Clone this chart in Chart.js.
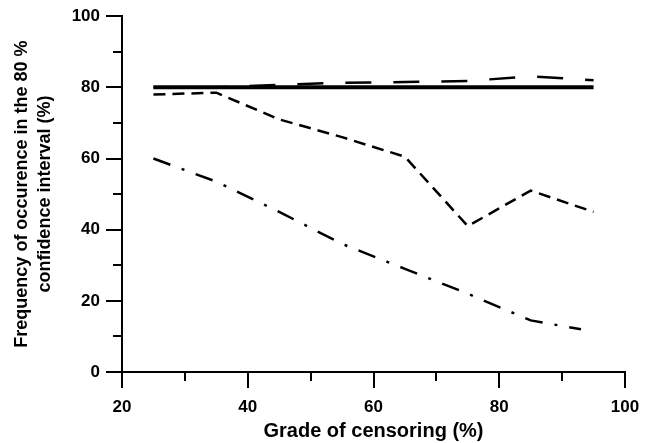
<!DOCTYPE html>
<html>
<head>
<meta charset="utf-8">
<script src="https://cdn.jsdelivr.net/npm/chart.js@4"></script>
<style>
  html, body { margin: 0; padding: 0; background: #fff; }
  #wrap { width: 651px; height: 443px; }
</style>
</head>
<body>
<div id="wrap"><canvas id="chart" width="651" height="443"></canvas></div>
<script>
// --- DATA ---
const censoring = [25, 35, 45, 55, 65, 75, 85, 95]; // grade of censoring (%)
const solidSeries = [80, 80, 80, 80, 80, 80, 80, 80];
const longDashSeries = [80, 80, 80.7, 81.3, 81.5, 81.8, 83.1, 82];
const shortDashSeries = [78, 78.5, 71, 66, 60.5, 41, 51, 45];
const dashDotX = [25, 35, 45, 55, 65, 75, 85, 93];
const dashDotSeries = [60, 53.5, 45, 36, 29, 22, 14.5, 12];

const xMajorTicks = [20, 40, 60, 80, 100];
const xMinorTicks = [30, 50, 70, 90];
const yMajorTicks = [0, 20, 40, 60, 80, 100];
const yMinorTicks = [10, 30, 50, 70, 90];

// --- HELPERS ---
function pairs(xs, ys) {
  return xs.map((x, i) => ({ x: x, y: ys[i] }));
}

function line(data, width, dash) {
  return {
    data: data,
    borderColor: "#000",
    borderWidth: width,
    borderDash: dash,
    borderCapStyle: "butt",
    pointRadius: 0,
    tension: 0,
    fill: false
  };
}

// short outward ticks between the labelled ones
const minorTicks = {
  id: "minorTicks",
  afterDraw(chart) {
    const c = chart.ctx;
    const xs = chart.scales.x, ys = chart.scales.y;
    c.save();
    c.strokeStyle = "#000";
    c.lineWidth = 2;
    c.beginPath();
    xMinorTicks.forEach(v => {
      const px = Math.round(xs.getPixelForValue(v));
      c.moveTo(px, xs.top);
      c.lineTo(px, xs.top + 9);
    });
    yMinorTicks.forEach(v => {
      const py = Math.round(ys.getPixelForValue(v));
      c.moveTo(ys.right, py);
      c.lineTo(ys.right - 9, py);
    });
    c.stroke();
    c.restore();
  }
};

const FONT = "'Liberation Sans', Arial, sans-serif";
const tickFont = { family: FONT, size: 17, weight: "bold" };

new Chart(document.getElementById("chart"), {
  type: "line",
  data: {
    datasets: [
      line(pairs(censoring, solidSeries), 4, []),
      line(pairs(censoring, longDashSeries), 2.5, [26, 22]),
      line(pairs(censoring, shortDashSeries), 2.5, [12, 7]),
      line(pairs(dashDotX, dashDotSeries), 2.5, [18, 12, 3, 12])
    ]
  },
  options: {
    responsive: false,
    animation: false,
    layout: { padding: { top: 14, right: 26, left: 10, bottom: 0 } },
    plugins: { legend: { display: false }, tooltip: { enabled: false } },
    scales: {
      x: {
        type: "linear",
        min: 20,
        max: 100,
        afterFit: s => { s.height = 71; },
        afterBuildTicks: s => { s.ticks = xMajorTicks.map(v => ({ value: v })); },
        border: { color: "#000", width: 2 },
        grid: { drawOnChartArea: false, color: "#000", lineWidth: 2, tickLength: 16 },
        ticks: { color: "#000", font: tickFont, padding: 9, maxRotation: 0 },
        title: {
          display: true,
          text: "Grade of censoring (%)",
          color: "#000",
          font: { family: FONT, size: 20, weight: "bold" },
          padding: { top: 0, bottom: 0 }
        }
      },
      y: {
        type: "linear",
        min: 0,
        max: 100,
        afterFit: s => { s.width = 112; },
        afterBuildTicks: s => { s.ticks = yMajorTicks.map(v => ({ value: v })); },
        border: { color: "#000", width: 2 },
        grid: { drawOnChartArea: false, color: "#000", lineWidth: 2, tickLength: 16 },
        ticks: { color: "#000", font: tickFont, padding: 6 },
        title: {
          display: true,
          text: ["Frequency of occurence in the 80 %", "confidence interval (%)"],
          color: "#000",
          font: { family: FONT, size: 18, weight: "bold", lineHeight: 1.3 },
          padding: { top: 0, bottom: 0 }
        }
      }
    }
  },
  plugins: [minorTicks]
});
</script>
</body>
</html>
